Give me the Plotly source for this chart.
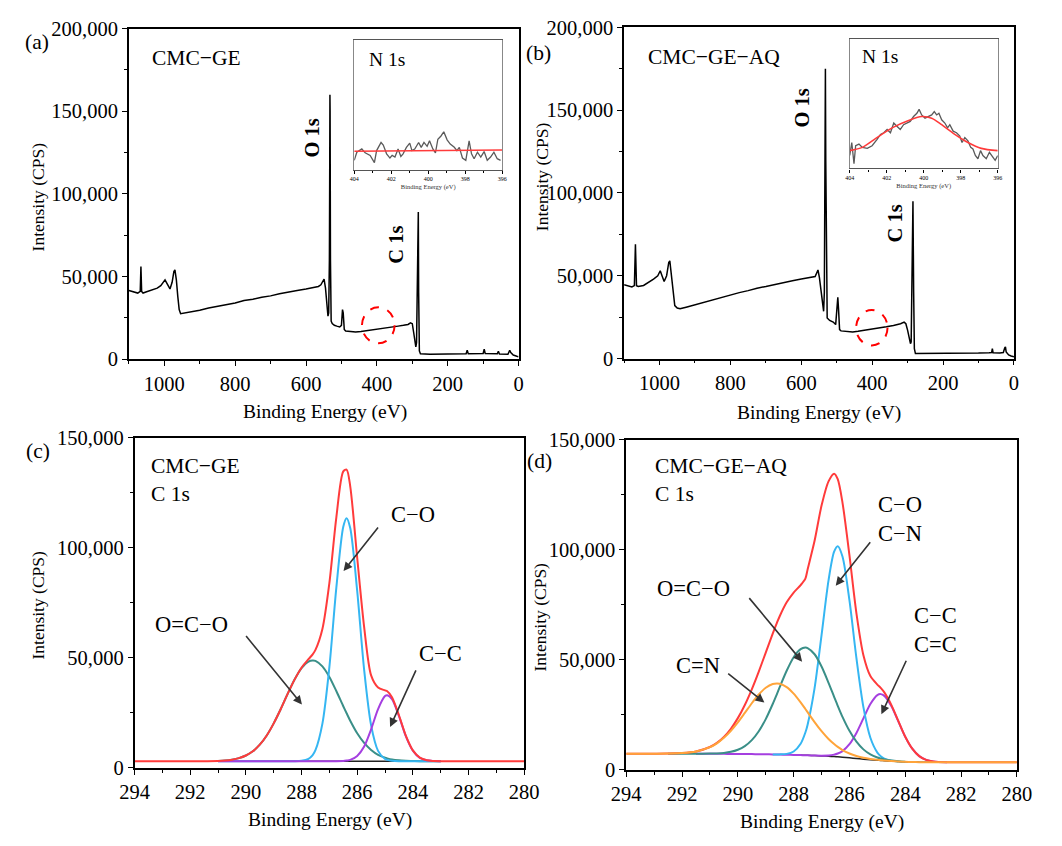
import plotly.graph_objects as go

FONT = "Liberation Serif"
W, H = 1062, 846

# ---------------- data: survey spectra ----------------
ge_be = [1100, 1090, 1080, 1075, 1068, 1066, 1064, 1060, 1050, 1040, 1030, 1020, 1010, 1003, 998, 993, 988, 984,
         978, 973, 970, 966, 962, 958, 954, 945, 930, 925, 900, 875, 850, 825, 800, 775, 750, 725, 700, 675, 650,
         625, 600, 580, 565, 558, 553, 549, 545, 541, 538, 536, 534, 533, 532.5, 532, 531, 529, 526, 520, 513, 505,
         500, 497, 495, 492, 488, 475, 460, 445, 430, 415, 400, 385, 370, 355, 340, 325, 312, 305, 300, 296, 292,
         290, 288, 285, 283, 282, 280, 277, 250, 200, 160, 148, 145, 142, 100, 97, 94, 60, 57, 54, 30, 25, 22, 15,
         5, 0]
ge_cps = [41500, 40800, 40200, 40000, 41000, 56000, 41000, 40000, 40800, 41500, 42000, 43000, 44500, 46500, 48000,
          46000, 43500, 42500, 46500, 53000, 54000, 48000, 38000, 30000, 27500, 27800, 28300, 28600, 29600, 31000,
          32000, 33200, 34000, 35500, 36200, 37500, 38300, 39600, 40400, 41600, 42500, 43300, 44000, 45000, 47500,
          48500, 43000, 34000, 26000, 28000, 60000, 120000, 160000, 150000, 60000, 23000, 21500, 20500, 20000,
          19500, 20500, 30000, 28000, 18000, 17000, 16800, 16500, 16800, 17200, 17800, 18300, 18800, 19200, 19500,
          20000, 20500, 21000, 22000, 21500, 16000, 8500, 7500, 10000, 50000, 89000, 40000, 5000, 3300, 3000, 3100,
          3200, 3300, 5500, 3300, 3500, 6000, 3400, 3300, 4800, 3200, 3000, 5400, 4000, 2500, 1800, 1500]

aq_be = [1100, 1094, 1085, 1078, 1071, 1068, 1065, 1060, 1045, 1030, 1017, 1005, 998, 993, 987, 980, 974, 971, 967,
         962, 957, 950, 942, 925, 900, 875, 850, 825, 800, 775, 750, 725, 700, 675, 650, 625, 600, 575, 561, 556,
         553, 549, 545, 541, 537, 535, 533, 532, 531, 529, 527, 520, 510, 503, 499, 497, 495, 492, 488, 470, 455,
         440, 420, 400, 380, 360, 340, 320, 310, 305, 300, 295, 292, 290, 287, 285, 283, 281, 278, 250, 200, 150,
         100, 70, 63, 61, 59, 40, 30, 26, 24, 22, 15, 8, 0]
aq_cps = [44500, 44100, 43500, 43200, 44000, 69000, 44000, 43500, 44100, 46000, 48000, 50000, 53000, 50000, 46500,
          50000, 58000, 59000, 50000, 40000, 32000, 30500, 30000, 31000, 32500, 34000, 35500, 37000, 38500, 39800,
          41000, 42500, 43500, 44800, 46000, 47000, 48000, 48800, 49500, 52000, 53500, 49000, 42000, 33000, 28500,
          40000, 110000, 175000, 120000, 40000, 24500, 23000, 22000, 20500, 30000, 37000, 30000, 17500, 16700,
          16200, 16000, 16400, 17000, 17800, 18500, 19200, 20000, 21000, 22000, 21000, 17000, 11000, 9000, 10000,
          50000, 95000, 40000, 6000, 3000, 3000, 3100, 3200, 3300, 3500, 3600, 6000, 3500, 3400, 3600, 6500, 7000,
          4000, 2200, 1500, 1000]

# ---------------- data: N 1s insets (relative intensity, % of inset height) ----------------
n1s_ge_be = [404.00, 403.86, 403.59, 403.41, 403.14, 402.91, 402.79, 402.55, 402.43, 402.25, 402.07, 401.95, 401.80,
             401.63, 401.48, 401.36, 401.18, 401.00, 400.88, 400.73, 400.52, 400.38, 400.23, 400.06, 399.93, 399.75,
             399.61, 399.48, 399.31, 399.16, 398.98, 398.81, 398.59, 398.45, 398.32, 398.15, 397.97, 397.79, 397.66,
             397.52, 397.34, 397.16, 396.98, 396.81, 396.63, 396.45, 396.27, 396.09]
n1s_ge_int = [7.5, 13.75, 16.25, 13.25, 11.25, 5.75, 15, 21.25, 19.25, 12.5, 9.25, 11.25, 10, 16.25, 10.5, 12.5, 17.5,
              20.75, 15, 16.25, 21.25, 17.5, 21.25, 18.25, 22.5, 16.25, 13.25, 23.75, 26.25, 29.5, 23.25, 20, 17.5,
              15, 17.5, 9.25, 7.5, 22.5, 12.5, 8.75, 13.75, 10, 14.25, 7.5, 10, 13.75, 8.75, 7.5]
n1s_ge_fit_be = [404, 396]
n1s_ge_fit = [14.5, 15.5]

n1s_aq_be = [404.00, 403.89, 403.77, 403.68, 403.50, 403.32, 403.05, 402.79, 402.52, 402.34, 402.16, 401.98, 401.80,
             401.62, 401.45, 401.27, 401.09, 400.91, 400.73, 400.55, 400.37, 400.25, 400.11, 399.93, 399.75, 399.57,
             399.43, 399.30, 399.18, 399.03, 398.86, 398.71, 398.59, 398.41, 398.23, 398.05, 397.93, 397.78, 397.61,
             397.46, 397.34, 397.21, 397.07, 396.93, 396.80, 396.62, 396.45, 396.27, 396.14, 396.00]
n1s_aq_int = [10.05, 20.1, 3.77, 17.6, 18.84, 16.33, 15.58, 17.59, 22.61, 26.38, 27.64, 30.15, 27.64, 35.18, 32.66,
              30.15, 33.92, 35.18, 36.43, 40.2, 42.71, 45.73, 41.46, 38.94, 40.2, 41.46, 43.97, 41.46, 42.71, 37.69,
              35.18, 31.41, 33.92, 28.89, 27.64, 25.13, 20.1, 23.87, 21.36, 16.33, 15.08, 10.05, 7.54, 13.82, 10.05,
              7.54, 12.56, 8.79, 6.28, 10.05]
n1s_aq_fit_be = [404.0, 403.32, 402.61, 401.71, 400.82, 400.11, 399.57, 399.03, 398.32, 397.61, 396.89, 396.0]
n1s_aq_fit = [13.82, 16.33, 23.12, 31.41, 37.19, 40.2, 38.94, 33.92, 26.38, 20.1, 15.58, 13.82]

# ---------------- data: C 1s, CMC-GE ----------------
c_ge_be = [291.0, 290.75, 290.5, 290.25, 290.0, 289.75, 289.5, 289.25, 289.0, 288.75, 288.5, 288.25, 288.0, 287.75,
           287.6, 287.5, 287.25, 287.0, 286.75, 286.5, 286.38, 286.25, 286.0, 285.75, 285.5, 285.25, 285.0, 284.92,
           284.75, 284.5, 284.25, 284.0, 283.75, 283.5, 283.25, 283.0]
c_ge_env_be = [294.0] + c_ge_be + [280.0]
c_ge_envelope = [3000, 3100, 3300, 3700, 4400, 5600, 7500, 10500, 14700, 20200, 26600, 33600, 40100, 45500, 49400,
                 51600, 53600, 63100, 84000, 113800, 134800, 135600, 128000, 95500, 64000, 42000, 36500, 35200, 34800,
                 32100, 23900, 14500, 7900, 4600, 3400, 3100, 3000, 3000]
c_ge_oco = [3100, 3300, 3700, 4400, 5600, 7500, 10500, 14700, 20200, 26600, 33600, 40100, 45300, 48300, 48800, 48600,
            46100, 41300, 34900, 28000, 24800, 21400, 15700, 11300, 8100, 5900, 4600, 4300, 3800, 3400, 3200, 3100,
            3000, 3000, 3000, 3000]
c_ge_co = [3000] * 12 + [3200, 4100, 5800, 8000, 20100, 45800, 81800, 109600, 113500, 109000, 80400, 44500, 19300,
                         7700, 4000, 3600, 3200, 3000] + [3000] * 6
c_ge_cc = [3000] * 19 + [3100, 3300, 3600, 5400, 9700, 17500, 26700, 32600, 33000, 31200, 23500, 14300, 7800, 4500,
                         3400, 3100, 3000]
c_ge_bg_be = [291.0, 283.0]
c_ge_bg = [3000, 3000]

# ---------------- data: C 1s, CMC-GE-AQ ----------------
c_aq_be = [294, 293, 292.5, 292, 291.5, 291, 290.75, 290.5, 290.25, 290, 289.75, 289.5, 289.25, 289, 288.75, 288.6,
           288.5, 288.25, 288, 287.75, 287.58, 287.5, 287.25, 287, 286.75, 286.55, 286.42, 286.25, 286, 285.75, 285.5,
           285.25, 285, 284.88, 284.75, 284.5, 284.25, 284, 283.75, 283.5, 283.25, 283, 282.5, 282, 281, 280]
c_aq_bg = [7300, 7300, 7300, 7300, 7280, 7250, 7230, 7210, 7190, 7170, 7140, 7100, 7060, 7010, 6960, 6920, 6900, 6830,
           6750, 6650, 6580, 6550, 6430, 6300, 6120, 5970, 5850, 5650, 5400, 5100, 4800, 4550, 4350, 4250, 4100, 3900,
           3750, 3600, 3520, 3450, 3420, 3400, 3400, 3400, 3400, 3400]
c_aq_co = [7300, 7300, 7300, 7300, 7280, 7250, 7230, 7210, 7190, 7170, 7140, 7100, 7060, 7010, 6970, 6960, 6980, 7210,
           8300, 11790, 16930, 20470, 37070, 61180, 86060, 99040, 101550, 96880, 76900, 50670, 28420, 14510, 7770,
           6150, 5050, 4120, 3790, 3600, 3520, 3450, 3420, 3400, 3400, 3400, 3400, 3400]
c_aq_oco = [7300, 7300, 7300, 7300, 7290, 7330, 7420, 7640, 8130, 9080, 10740, 13450, 17490, 23010, 29860, 34400,
            37500, 44960, 51100, 54770, 55480, 55280, 52470, 46890, 39500, 33140, 29050, 24000, 17660, 12750, 9250,
            6970, 5570, 5110, 4680, 4160, 3860, 3640, 3535, 3450, 3420, 3400, 3400, 3400, 3400, 3400]
c_aq_cn = [7300, 7310, 7360, 7570, 8280, 10240, 12010, 14480, 17680, 21540, 25840, 30210, 34190, 37240, 38960, 39220,
           39070, 37540, 34590, 30610, 27590, 26140, 21640, 17510, 13970, 11660, 10380, 8950, 7380, 6230, 5410, 4860,
           4500, 4360, 4170, 3930, 3760, 3600, 3520, 3450, 3420, 3400, 3400, 3400, 3400, 3400]
c_aq_cc = [7300, 7300, 7300, 7300, 7280, 7250, 7230, 7210, 7190, 7170, 7140, 7100, 7060, 7010, 6960, 6920, 6900, 6830,
           6750, 6650, 6580, 6555, 6456, 6405, 6488, 6867, 7368, 8480, 11600, 16700, 23350, 29880, 33910, 34350, 33560,
           28990, 22010, 14950, 9550, 6190, 4480, 3750, 3424, 3400, 3400, 3400]
c_aq_envelope = [7300, 7310, 7360, 7570, 8290, 10320, 12200, 14910, 18620, 23450, 29440, 36560, 44620, 53240, 61870,
                 66740, 69750, 76050, 80490, 83870, 86840, 91000, 104000, 120000, 131000, 134500, 132000, 121360,
                 97340, 71050, 52030, 42570, 38700, 37220, 35160, 29490, 22170, 14990, 9570, 6190, 4480, 3750, 3424,
                 3400, 3400, 3400]

# ---------------- styling ----------------
RED = "#FF3B3B"
BLUE = "#35B6F2"
TEAL = "#3A8F88"
PURPLE = "#A53FE0"
ORANGE = "#FFA43A"


def px(x):
    return x / W


def py(y):
    return 1 - y / H


def clip(xs, ys, hi, lo):
    pts = [(a, b) for a, b in zip(xs, ys) if lo <= a <= hi]
    return [p[0] for p in pts], [p[1] for p in pts]


fig = go.Figure()


def line(x, y, axes, color, width, shape="linear"):
    fig.add_trace(go.Scatter(x=x, y=y, xaxis=axes[0], yaxis=axes[1], mode="lines",
                             line=dict(color=color, width=width, shape=shape, smoothing=0.8),
                             showlegend=False, hoverinfo="skip"))


# survey panels
line(ge_be, ge_cps, ("x", "y"), "black", 1.5)
line(aq_be, aq_cps, ("x2", "y2"), "black", 1.5)

# C 1s CMC-GE
line(c_ge_bg_be, c_ge_bg, ("x3", "y3"), "#222222", 1.5)
line(c_ge_be, c_ge_oco, ("x3", "y3"), TEAL, 2, "spline")
line(c_ge_be, c_ge_co, ("x3", "y3"), BLUE, 2, "spline")
line(c_ge_be, c_ge_cc, ("x3", "y3"), PURPLE, 2, "spline")
line(c_ge_env_be, c_ge_envelope, ("x3", "y3"), RED, 2, "spline")

# C 1s CMC-GE-AQ
bx, by = clip(c_aq_be, c_aq_bg, 288.0, 283.0)
line(bx, by, ("x4", "y4"), "#222222", 1.5, "spline")
cx, cy = clip(c_aq_be, c_aq_cc, 291.5, 282.5)
line(cx, cy, ("x4", "y4"), PURPLE, 2, "spline")
cx, cy = clip(c_aq_be, c_aq_co, 288.75, 284.25)
line(cx, cy, ("x4", "y4"), BLUE, 2, "spline")
cx, cy = clip(c_aq_be, c_aq_oco, 292.5, 284.0)
line(cx, cy, ("x4", "y4"), TEAL, 2, "spline")
line(c_aq_be, c_aq_envelope, ("x4", "y4"), RED, 2, "spline")
line(c_aq_be, c_aq_cn, ("x4", "y4"), ORANGE, 2, "spline")

# insets
line(n1s_ge_be, n1s_ge_int, ("x5", "y5"), "#5a5a5a", 1.3)
line(n1s_ge_fit_be, n1s_ge_fit, ("x5", "y5"), RED, 1.6)
line(n1s_aq_be, n1s_aq_int, ("x6", "y6"), "#5a5a5a", 1.3)
line(n1s_aq_fit_be, n1s_aq_fit, ("x6", "y6"), RED, 1.6, "spline")


def axis(domain, rng, dtick, mdtick, anchor, size=20.5, fmt=None, lw=1.6, tl=5, mtl=3):
    d = dict(domain=domain, range=rng, dtick=dtick, tick0=0, anchor=anchor,
             showline=True, linecolor="black", linewidth=lw, mirror=True,
             ticks="outside", ticklen=tl, tickwidth=1.3, tickcolor="black",
             minor=dict(ticks="outside", ticklen=mtl, tickwidth=1.1, tickcolor="black", dtick=mdtick, tick0=0),
             showgrid=False, zeroline=False,
             tickfont=dict(family=FONT, size=size, color="black"))
    if fmt:
        d["tickformat"] = fmt
    return d


layout = dict(
    width=W, height=H, margin=dict(l=0, r=0, t=0, b=0),
    paper_bgcolor="white", plot_bgcolor="white", showlegend=False,
    font=dict(family=FONT, color="black"),
)
# panel (a)
layout["xaxis"] = axis([px(117.2), px(518.2)], [1100, 0], 200, 100, "y")
layout["yaxis"] = axis([py(357.5), py(18)], [0, 200000], 50000, 25000, "x", fmt=",d")
# panel (b)
layout["xaxis2"] = axis([px(626.8), px(1028)], [1100, 0], 200, 100, "y2")
layout["yaxis2"] = axis([py(356.8), py(16.8)], [0, 200000], 50000, 25000, "x2", fmt=",d")
# panel (c)
layout["xaxis3"] = axis([px(123), px(524)], [294, 280], 2, 1, "y3")
layout["yaxis3"] = axis([py(777), py(438.3)], [0, 150000], 50000, 25000, "x3", fmt=",d")
# panel (d)
layout["xaxis4"] = axis([px(629), px(1031)], [294, 280], 2, 1, "y4")
layout["yaxis4"] = axis([py(779), py(440)], [0, 150000], 50000, 25000, "x4", fmt=",d")
# inset (a)
layout["xaxis5"] = axis([px(349.1), px(501.4)], [404, 396], 2, 1, "y5", size=6, lw=1.2, tl=3, mtl=2)
layout["xaxis5"]["linecolor"] = "#555555"
layout["xaxis5"]["title"] = dict(text="Binding Energy (eV)", font=dict(family=FONT, size=6.5, color="#333"),
                                 standoff=3)
layout["yaxis5"] = dict(domain=[py(163.3), py(30)], range=[0, 100], anchor="x5", showline=True,
                        linecolor="#888888", linewidth=1.2, mirror=True, ticks="", showticklabels=False,
                        showgrid=False, zeroline=False)
# inset (b)
layout["xaxis6"] = axis([px(859), px(1011.3)], [404, 396], 2, 1, "y6", size=6, lw=1.2, tl=3, mtl=2)
layout["xaxis6"]["linecolor"] = "#555555"
layout["xaxis6"]["title"] = dict(text="Binding Energy (eV)", font=dict(family=FONT, size=6.5, color="#333"),
                                 standoff=3)
layout["yaxis6"] = dict(domain=[py(161.7), py(29)], range=[0, 100], anchor="x6", showline=True,
                        linecolor="#888888", linewidth=1.2, mirror=True, ticks="", showticklabels=False,
                        showgrid=False, zeroline=False)

fig.update_layout(**layout)

ann = []


def text(x, y, s, size=22.5, xanchor="center", yanchor="middle", angle=0, bold=False, align="left"):
    if bold:
        s = "<b>" + s + "</b>"
    ann.append(dict(x=px(x), y=py(y), xref="paper", yref="paper", text=s, showarrow=False,
                    xanchor=xanchor, yanchor=yanchor, textangle=angle, align=align,
                    font=dict(family=FONT, size=size, color="black")))


def arrow(tx, ty, hx, hy):
    ann.append(dict(x=px(hx), y=py(hy), xref="paper", yref="paper", text="", showarrow=True,
                    ax=tx - hx, ay=ty - hy, arrowhead=2, arrowsize=1.1, arrowwidth=1.6,
                    arrowcolor="#333333"))


# panel letters
text(23.1, 32, "(a)", 21.5)
text(538.5, 43, "(b)", 21.5)
text(24.1, 452, "(c)", 21.5)
text(539.9, 462, "(d)", 21.5)

# axis titles
for (xc, yc) in [(24.1, 191), (541.9, 170), (24.1, 610), (539.9, 622)]:
    text(xc, yc, "Intensity (CPS)", 17.5, angle=-90)
for (xc, yc) in [(318.7, 412), (827.3, 413), (323.8, 831), (830.4, 833)]:
    text(xc, yc, "Binding Energy (eV)", 19.5)

# sample labels
text(139.3, 48, "CMC−GE", 21.5, xanchor="left")
text(648.9, 47, "CMC−GE−AQ", 21.5, xanchor="left")
text(138.3, 482, "CMC−GE<br>C 1s", 21.5, xanchor="left")
text(656.1, 482, "CMC−GE−AQ<br>C 1s", 21.5, xanchor="left")

# inset labels
text(362.1, 50, "N 1s", 19.5, xanchor="left")
text(870, 47, "N 1s", 19.5, xanchor="left")

# peak labels on survey
text(305.5, 130, "O 1s", 20.5, angle=-90, bold=True)
text(392.1, 240, "C 1s", 20.5, angle=-90, bold=True)
text(810, 100, "O 1s", 20.5, angle=-90, bold=True)
text(905.8, 218, "C 1s", 20.5, angle=-90, bold=True)

# component labels (c)
text(409.5, 517, "C−O")
arrow(373.8, 530, 338.1, 575)
text(182.1, 630, "O=C−O")
arrow(238.2, 642, 295.3, 712)
text(438, 660, "C−C")
arrow(412.5, 677, 386, 735)

# component labels (d)
text(910.9, 522, "C−O<br>C−N", align="center")
arrow(880.3, 545, 844.6, 590)
text(697.8, 593, "O=C−O")
arrow(755.9, 603, 810, 668)
text(702.9, 672, "C=N")
arrow(733.5, 680, 771.2, 710)
text(947.6, 636, "C−C<br>C=C", align="center")
arrow(917.1, 667, 891.6, 722)

fig.update_layout(annotations=ann)

# dashed circles marking the N 1s region
fig.add_shape(type="circle", xref="x", yref="y", xsizemode="pixel", ysizemode="pixel",
              xanchor=396, yanchor=20500, x0=-16.3, x1=16.3, y0=-18, y1=18,
              line=dict(color="red", width=2, dash="dash"))
fig.add_shape(type="circle", xref="x2", yref="y2", xsizemode="pixel", ysizemode="pixel",
              xanchor=401, yanchor=18600, x0=-15.7, x1=15.7, y0=-17.7, y1=17.7,
              line=dict(color="red", width=2, dash="dash"))

fig.write_html("out.html", config={"displayModeBar": False})

# remove the default page margin so the figure sits at the window origin
with open("out.html", encoding="utf-8") as f:
    html = f.read()
html = html.replace("<head>", "<head><style>html,body{margin:0;padding:0;overflow:hidden;}</style>", 1)
with open("out.html", "w", encoding="utf-8") as f:
    f.write(html)
